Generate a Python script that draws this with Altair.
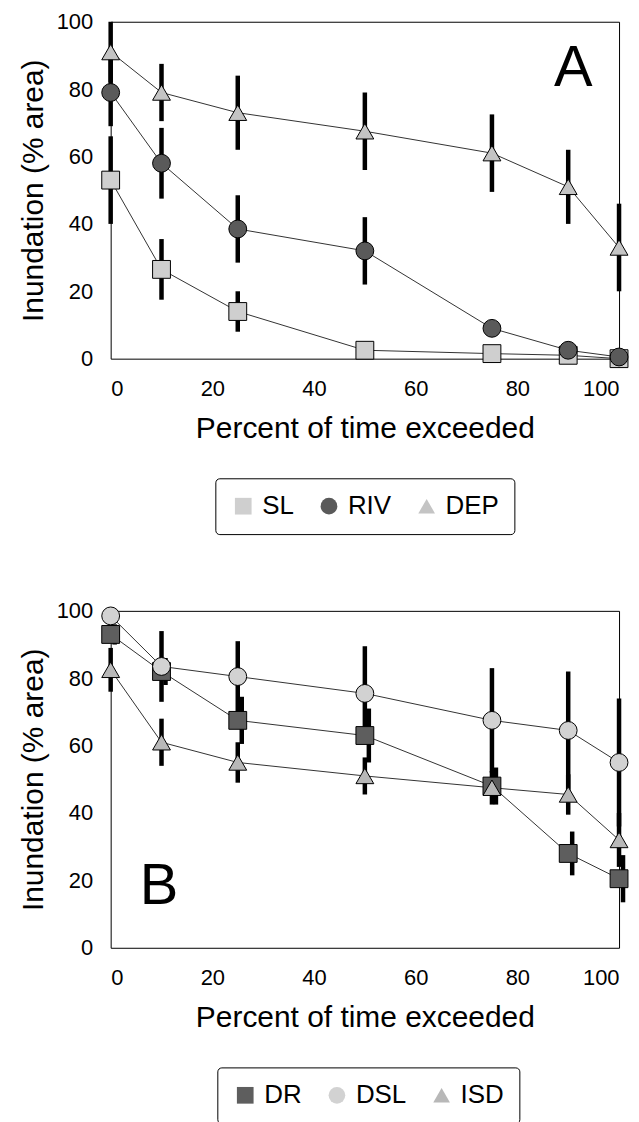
import altair as alt
import pandas as pd

FONT = "Liberation Sans"

x_vals = [0, 10, 25, 50, 75, 90, 100]

# Panel A
a_names = ["SL", "RIV", "DEP"]
sl_mean = [53, 26.5, 14, 2.5, 1.5, 1, 0]
sl_err = [13, 9, 6, 0, 0, 0, 0]
riv_mean = [79, 58, 38.5, 32, 9, 2.5, 0.5]
riv_err = [10, 10.5, 10, 10, 0, 0, 0]
dep_mean = [91, 79, 73, 67.5, 61, 51, 33]
dep_err = [9, 8.5, 11, 11.5, 11.5, 11, 13]

# Panel B
b_names = ["DR", "DSL", "ISD"]
dr_mean = [93, 82, 67.5, 63, 48, 28, 20.5]
dr_err = [3, 4, 7, 8, 5.5, 6.5, 7]
dsl_mean = [98.5, 83.5, 80.5, 75.5, 67.5, 64.5, 55]
dsl_err = [2, 10.5, 10.5, 14, 15.5, 17.5, 19]
isd_mean = [82.5, 61, 55, 51, 47.5, 45.5, 32]
isd_err = [6.5, 7, 6, 5.5, 5, 6, 8]

a_shapes = ["square", "circle", "triangle-up"]
a_fills = ["#cfcfcf", "#5a5a5a", "#c4c4c4"]
b_shapes = ["square", "circle", "triangle-up"]
b_fills = ["#5e5e5e", "#d2d2d2", "#b8b8b8"]

a_letter = {"t": ["A"], "x": [91], "y": [86]}
b_letter = {"t": ["B"], "x": [9.5], "y": [18]}

ticks = [0, 20, 40, 60, 80, 100]

XT = "Percent of time exceeded"
YT = "Inundation (% area)"


def long_df(names, means, errs):
    rows = []
    for name, m, e in zip(names, means, errs):
        for xv, mv, ev in zip(x_vals, m, e):
            rows.append({"series": name, "x": xv, "y": mv,
                         "lo": max(mv - ev, 0), "hi": mv + ev})
    return pd.DataFrame(rows)


def panel(df, names, shapes, fills, letter, lx, ly, shifted=()):
    base = alt.Chart(df)
    xs = alt.Scale(domain=[0, 100], nice=False)
    ys = alt.Scale(domain=[0, 100], nice=False)
    xax = alt.Axis(values=ticks, title=XT)
    yax = alt.Axis(values=ticks, title=YT)
    leg = alt.Legend(title=None, orient="none", legendX=lx, legendY=ly,
                     direction="horizontal", strokeColor="black",
                     fillColor="white", padding=15, cornerRadius=4,
                     labelFontSize=26, labelFont=FONT, labelColor="black",
                     symbolSize=280, symbolStrokeColor="black",
                     symbolStrokeWidth=1, columnPadding=22, labelOffset=6)
    lines = base.mark_line(color="#333", strokeWidth=1).encode(
        x=alt.X("x:Q", scale=xs, axis=xax, title=XT),
        y=alt.Y("y:Q", scale=ys, axis=yax, title=YT),
        detail="series:N", order="x:Q")
    layers = [lines]
    for name in names:
        off = 4 if name in shifted else 0
        layers.append(
            base.transform_filter(alt.datum.series == name)
            .mark_rule(color="black", strokeWidth=4.5, xOffset=off)
            .encode(x=alt.X("x:Q", title=XT), y=alt.Y("lo:Q", title=YT), y2="hi:Q"))
    pts = base.mark_point(filled=True, size=320, stroke="black",
                          strokeWidth=1, opacity=1).encode(
        x=alt.X("x:Q", title=XT),
        y=alt.Y("y:Q", title=YT),
        shape=alt.Shape("series:N", scale=alt.Scale(domain=names, range=shapes), legend=leg),
        fill=alt.Fill("series:N", scale=alt.Scale(domain=names, range=fills), legend=leg))
    txt = alt.Chart(pd.DataFrame(letter)).mark_text(
        fontSize=58, font=FONT, color="black").encode(
        x=alt.X("x:Q", title=XT), y=alt.Y("y:Q", title=YT), text="t:N")
    layers += [pts, txt]
    return alt.layer(*layers).properties(width=510, height=338)


df_a = long_df(a_names, [sl_mean, riv_mean, dep_mean], [sl_err, riv_err, dep_err])
df_b = long_df(b_names, [dr_mean, dsl_mean, isd_mean], [dr_err, dsl_err, isd_err])

pa = panel(df_a, a_names, a_shapes, a_fills, a_letter, 105, 458)
pb = panel(df_b, b_names, b_shapes, b_fills, b_letter, 107, 458, shifted=("DR",))

chart = alt.vconcat(pa, pb, spacing=64).resolve_scale(
    shape="independent", fill="independent"
).properties(
    padding={"top": 0, "left": 9, "right": 0, "bottom": 0}
).configure_view(stroke="black", strokeWidth=1).configure_axis(
    grid=False, domain=False, ticks=False,
    labelFont=FONT, labelFontSize=22, labelColor="black",
    titleFont=FONT, titleFontSize=30, titleFontWeight="normal", titleColor="black"
).configure_axisX(labelPadding=20, titlePadding=14).configure_axisY(
    labelPadding=18, titlePadding=8)

chart.save("out.html", embed_options={"renderer": "svg", "actions": False})
